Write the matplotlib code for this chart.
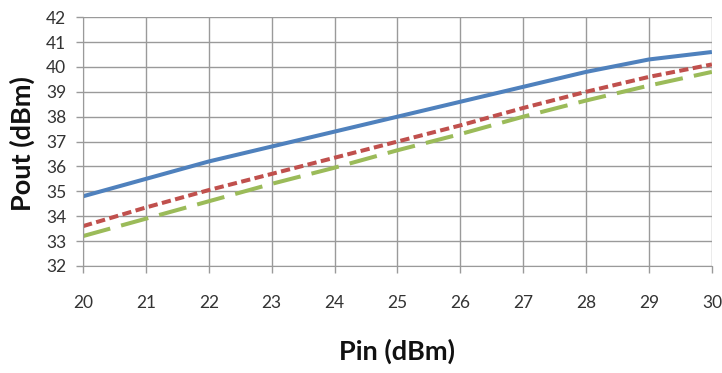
import matplotlib
matplotlib.use("Agg")
import matplotlib.pyplot as plt

pin = [20, 21, 22, 23, 24, 25, 26, 27, 28, 29, 30]
pout_blue = [34.8, 35.5, 36.2, 36.8, 37.4, 38.0, 38.6, 39.2, 39.8, 40.3, 40.6]
pout_red = [33.6, 34.35, 35.05, 35.7, 36.35, 37.0, 37.65, 38.35, 39.0, 39.6, 40.1]
pout_green = [33.2, 33.9, 34.6, 35.3, 35.95, 36.65, 37.3, 38.0, 38.65, 39.25, 39.8]
x_ticks = list(range(20, 31))
y_ticks = list(range(32, 43))

plt.rcParams['font.family'] = ['Lato', 'DejaVu Sans']

fig = plt.figure(figsize=(7.22, 3.73), dpi=100)
ax = fig.add_axes([0.115, 0.287, 0.871, 0.667])

ax.plot(pin, pout_blue, color='#4F81BD', lw=2.9, solid_capstyle='butt')
ax.plot(pin, pout_red, color='#C0504D', lw=2.9, dashes=(2.3, 1.1))
ax.plot(pin, pout_green, color='#9BBB59', lw=2.9, dashes=(7, 2.8))

ax.set_xlim(20, 30)
ax.set_ylim(32, 42)
ax.set_xticks(x_ticks)
ax.set_yticks(y_ticks)
ax.grid(True, color='#9a9a9a', lw=1.0)
ax.set_axisbelow(True)
for s in ['top', 'right']:
    ax.spines[s].set_visible(False)
ax.spines['left'].set_color('#9a9a9a')
ax.spines['bottom'].set_color('#9a9a9a')
ax.tick_params(axis='both', colors='#9a9a9a', labelcolor='#333333', labelsize=12.5, length=5, width=1)
ax.tick_params(axis='x', pad=16)
ax.tick_params(axis='y', pad=7)

ax.text(0.5, -0.345, 'Pin (dBm)', transform=ax.transAxes, ha='center', va='center',
        fontsize=19.5, fontweight='bold', color='#111111')
ax.text(-0.097, 0.49, 'Pout (dBm)', transform=ax.transAxes, ha='center', va='center',
        rotation=90, fontsize=19.5, fontweight='bold', color='#111111')

fig.savefig('out.png', dpi=100, facecolor='white')
